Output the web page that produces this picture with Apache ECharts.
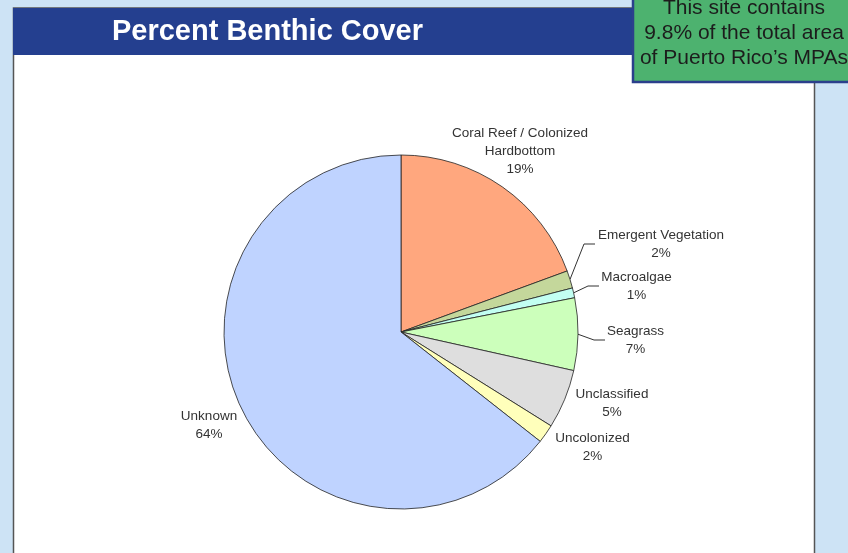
<!DOCTYPE html>
<html><head><meta charset="utf-8">
<script src="https://cdn.jsdelivr.net/npm/echarts@6/dist/echarts.min.js"></script>
<style>html,body{margin:0;padding:0;background:#cde3f5;}#c{width:848px;height:553px;}</style>
</head><body><div id="c"></div>
<script>
const categories = ['Coral Reef / Colonized\nHardbottom','Emergent Vegetation','Macroalgae','Seagrass','Unclassified','Uncolonized','Unknown'];
const values = [19.4, 1.6, 0.9, 6.6, 5.4, 1.7, 64.4];
const colors = ['#ffa77e','#c4d79b','#c2fff2','#ccffbb','#dedede','#ffffbb','#bfd3ff'];
const titleText = 'Percent Benthic Cover';
const noteText = 'This site contains\n9.8% of the total area\nof Puerto Rico\u2019s MPAs';
// label layout: [centerX, centerY, show line]
const labelPos = [[520,151,false],[661,244,true],[636.5,286,true],[635.5,340,true],[612,403.5,false],[592.5,447,false],[209,425,false]];
const labelW = [0,130,73,59,0,0,0];

const chart = echarts.init(document.getElementById('c'));
const FONT = 'Arial, "Liberation Sans", sans-serif';
chart.setOption({
  backgroundColor: '#cde3f5',
  animation: false,
  graphic: [
    {type:'rect', shape:{x:13.5,y:8,width:801,height:560}, style:{fill:'#ffffff', stroke:'#555555', lineWidth:1.5}, z:0},
    {type:'rect', shape:{x:13,y:8,width:640,height:47}, style:{fill:'#243f8f'}, z:1},
    {type:'text', x:267.5, y:32, style:{text:titleText, fill:'#ffffff', font:'bold 29px '+FONT, textAlign:'center', textVerticalAlign:'middle'}, z:2},
    {type:'rect', shape:{x:633,y:-20,width:230,height:102}, style:{fill:'#4db26f', stroke:'#2b3f8c', lineWidth:2.5}, z:3},
    {type:'text', x:744, y:33, style:{text:noteText, fill:'#1c1c1c', font:'21px '+FONT, textAlign:'center', textVerticalAlign:'middle', lineHeight:25}, z:4}
  ],
  series: [{
    type: 'pie',
    center: [401, 332],
    radius: 177,
    startAngle: 90,
    clockwise: true,
    avoidLabelOverlap: false,
    itemStyle: {borderColor:'#222222', borderWidth:0.8},
    label: {
      show: true, position: 'outside',
      formatter: p => p.name + '\n' + Math.round(p.value) + '%',
      fontFamily: FONT, fontSize: 13.5, color: '#333333', lineHeight: 18, align: 'center'
    },
    labelLine: {show: true, lineStyle: {color:'#333333', width:1}, length: 10, length2: 10, smooth: false},
    labelLayout: function (params) {
      const i = params.dataIndex;
      const lp = labelPos[i];
      const out = {x: lp[0], y: lp[1], align: 'center', verticalAlign: 'middle'};
      if (lp[2] && params.labelLinePoints) {
        const p0 = params.labelLinePoints[0];
        const left = lp[0] - labelW[i] / 2;
        out.labelLinePoints = [[p0[0], p0[1]], [left - 12, lp[1]], [left - 1, lp[1]]];
      }
      return out;
    },
    data: categories.map((c, i) => ({
      name: c, value: values[i],
      itemStyle: {color: colors[i]},
      labelLine: {show: labelPos[i][2]}
    }))
  }]
});
</script></body></html>
